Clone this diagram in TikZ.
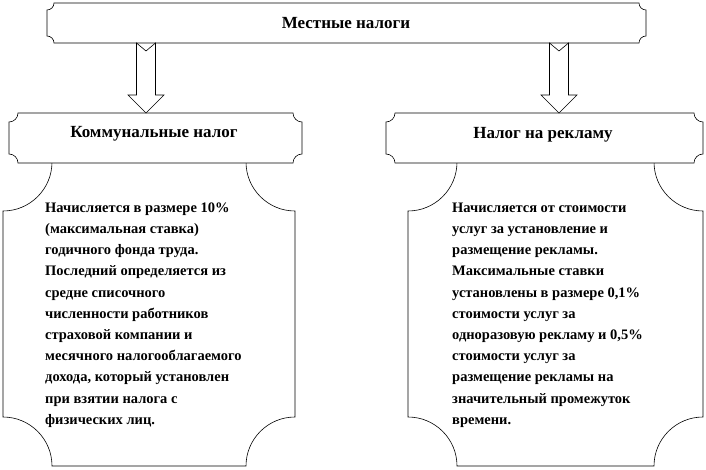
\documentclass[tikz,border=0pt]{standalone}
\usepackage{fontspec}
\setmainfont{Liberation Serif}
\usetikzlibrary{calc}
\tikzset{
  plq/.style={draw=black, line width=0.6pt, fill=white},
  frame/.style={draw=none, inner sep=0pt, outer sep=0pt},
  headtext/.style={font=\fontsize{17}{20}\selectfont\bfseries, inner sep=0pt},
  bodytext/.style={font=\fontsize{14.5}{21.2}\selectfont\bfseries, align=left, inner sep=0pt, anchor=west},
  blockarrow/.style={draw=black, line width=0.6pt, fill=white}
}
% name, x1, y1, x2, y2, r
\newcommand{\plqnode}[6]{%
  \draw[plq] ({#2+#6},{#3}) -- ({#4-#6},{#3})
    .. controls ({#4-#6},{#3+0.5523*#6}) and ({#4-0.5523*#6},{#3+#6}) .. ({#4},{#3+#6})
    -- ({#4},{#5-#6})
    .. controls ({#4-0.5523*#6},{#5-#6}) and ({#4-#6},{#5-0.5523*#6}) .. ({#4-#6},{#5})
    -- ({#2+#6},{#5})
    .. controls ({#2+#6},{#5-0.5523*#6}) and ({#2+0.5523*#6},{#5-#6}) .. ({#2},{#5-#6})
    -- ({#2},{#3+#6})
    .. controls ({#2+0.5523*#6},{#3+#6}) and ({#2+#6},{#3+0.5523*#6}) .. ({#2+#6},{#3})
    -- cycle;
  \node[frame, minimum width={#4pt-#2pt}, minimum height={#5pt-#3pt}] (#1) at ({(#2+#4)/2},{(#3+#5)/2}) {};%
}
% from node, to node, x coordinate name
\newcommand{\blockarr}[3]{%
  \draw[blockarrow] let \p1=(#1.south -| #3), \p2=(#2.north -| #3) in
    (\x1-9.5pt,\y1) -- (\x1,\y1-8pt) -- (\x1+9.5pt,\y1) -- (\x1+9.5pt,\y2+18pt)
    -- (\x1+18pt,\y2+18pt) -- (\x1,\y2) -- (\x1-18pt,\y2+18pt) -- (\x1-9.5pt,\y2+18pt) -- cycle;%
}
\begin{document}
\begin{tikzpicture}[x=1pt,y=-1pt]
\useasboundingbox (0,0) rectangle (706,470);
% body boxes
\plqnode{b1}{3}{162}{295}{466}{49}
\plqnode{b2}{408}{162}{703}{466}{49}
% header boxes
\plqnode{h1}{9}{113}{302}{163}{9}
\plqnode{h2}{386}{113}{703}{163}{9}
% top box
\plqnode{top}{47}{3}{646}{43}{7}
% texts
\node[headtext] (topt) at (346,23) {Местные налоги};
\node[headtext] (h1t) at (154,134) {Коммунальные налог};
\node[headtext] (h2t) at (543,135) {Налог на рекламу};
\node[bodytext] (b1t) at (45,315) {Начисляется в размере 10\%\\
(максимальная  ставка)\\
годичного фонда  труда.\\
Последний определяется из\\
средне списочного\\
численности работников\\
страховой компании и\\
месячного налогооблагаемого\\
дохода, который  установлен\\
при взятии налога с\\
физических  лиц.};
\node[bodytext] (b2t) at (452,315) {Начисляется  от стоимости\\
услуг  за установление и\\
размещение  рекламы.\\
Максимальные  ставки\\
установлены в размере  0,1\%\\
стоимости услуг  за\\
одноразовую рекламу  и 0,5\%\\
стоимости услуг  за\\
размещение  рекламы  на\\
значительный промежуток\\
времени.};
% arrows
\coordinate (a1) at (146,80);
\coordinate (a2) at (559,80);
\blockarr{top}{h1}{a1}
\blockarr{top}{h2}{a2}
\end{tikzpicture}
\end{document}
